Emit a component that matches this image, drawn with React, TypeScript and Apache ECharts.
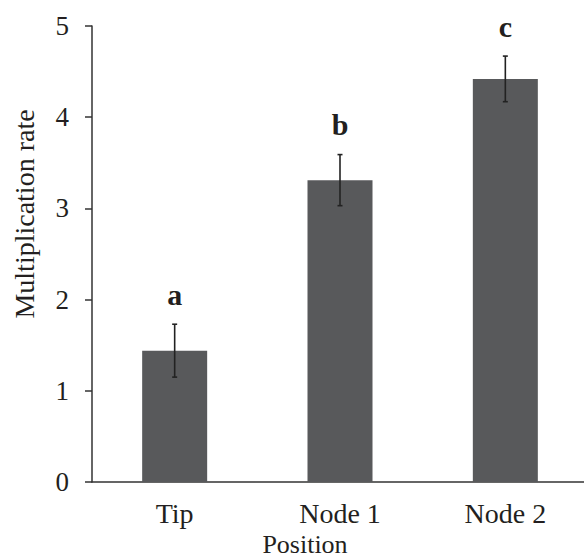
import React, { useEffect, useRef } from "react";
import * as echarts from "echarts";

const categories = ["Tip", "Node 1", "Node 2"];
const means = [1.44, 3.31, 4.42];
const errors = [0.29, 0.28, 0.25];
const letters = ["a", "b", "c"];
const yTicks = [0, 1, 2, 3, 4, 5];

const FONT = '"Liberation Serif", "Times New Roman", serif';
const TEXT = "#231f20";

export default function App() {
  const ref = useRef<HTMLDivElement>(null);
  useEffect(() => {
    if (!ref.current) return;
    const chart = echarts.init(ref.current, null, { renderer: "svg" });
    const option = {
      animation: false,
      backgroundColor: "#ffffff",
      grid: { left: 92, right: -4, top: 26, bottom: 76, containLabel: false, outerBoundsMode: "none" },
      xAxis: {
        type: "category",
        data: categories,
        boundaryGap: true,
        axisLine: { show: true, lineStyle: { color: "#333", width: 1.5 } },
        axisTick: { show: false },
        axisLabel: { color: TEXT, fontFamily: FONT, fontSize: 28, margin: 17 },
        name: "Position",
        nameLocation: "middle",
        nameGap: 44,
        nameTextStyle: { color: TEXT, fontFamily: FONT, fontSize: 26, lineHeight: 26, padding: [0, 70, 0, 0] },
      },
      yAxis: {
        type: "value",
        min: yTicks[0],
        max: yTicks[yTicks.length - 1],
        interval: 1,
        splitLine: { show: false },
        axisLine: { show: true, lineStyle: { color: "#333", width: 1.5 } },
        axisTick: { show: true, inside: false, length: 7, lineStyle: { color: "#333", width: 1.5 } },
        axisLabel: { color: TEXT, fontFamily: FONT, fontSize: 27, margin: 23 },
        name: "Multiplication rate",
        nameLocation: "middle",
        nameGap: 54,
        nameRotate: 90,
        nameTextStyle: { color: TEXT, fontFamily: FONT, fontSize: 28, padding: [0, 0, 0, 80] },
      },
      series: [
        {
          type: "bar",
          data: means,
          barWidth: 65,
          itemStyle: { color: "#58595b" },
        },
        {
          type: "custom",
          data: categories.map((_, i) => [i, means[i], errors[i]]),
          encode: { x: 0, y: 1 },
          z: 10,
          renderItem: (params: any, api: any) => {
            const x = api.value(0);
            const v = api.value(1);
            const e = api.value(2);
            const top = api.coord([x, v + e]);
            const bot = api.coord([x, v - e]);
            const cap = 2.5;
            const ls = { stroke: "#222", lineWidth: 1.6 };
            return {
              type: "group",
              children: [
                { type: "line", shape: { x1: top[0], y1: top[1], x2: bot[0], y2: bot[1] }, style: ls },
                { type: "line", shape: { x1: top[0] - cap, y1: top[1], x2: top[0] + cap, y2: top[1] }, style: ls },
                { type: "line", shape: { x1: bot[0] - cap, y1: bot[1], x2: bot[0] + cap, y2: bot[1] }, style: ls },
                {
                  type: "text",
                  x: top[0],
                  y: top[1] - 15,
                  style: {
                    text: letters[params.dataIndex],
                    textAlign: "center",
                    textVerticalAlign: "bottom",
                    font: `bold 30px ${FONT}`,
                    fill: TEXT,
                  },
                },
              ],
            };
          },
        },
      ],
    };
    chart.setOption(option as any);
    return () => chart.dispose();
  }, []);
  return (
    <div
      ref={ref}
      style={{ position: "fixed", left: 0, top: 0, width: 584, height: 558 }}
    />
  );
}
